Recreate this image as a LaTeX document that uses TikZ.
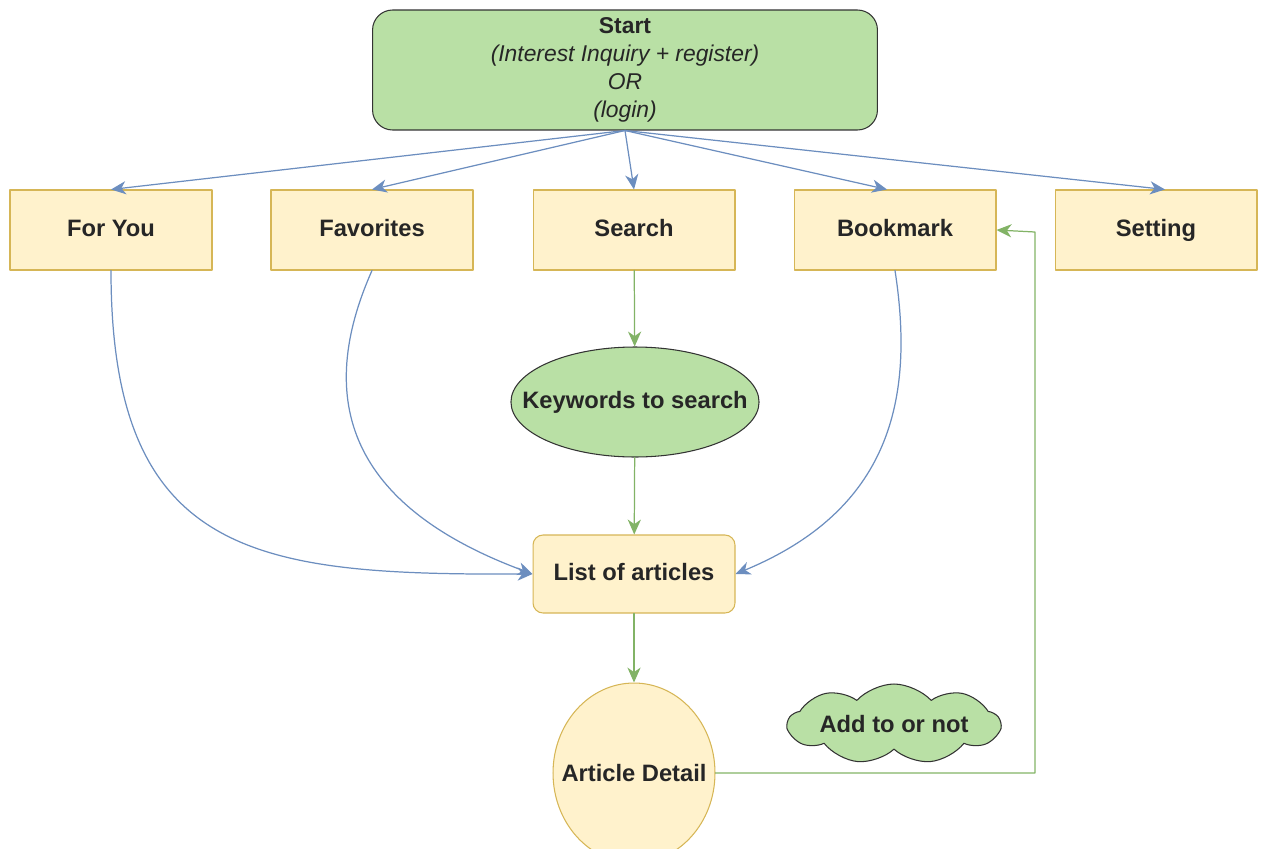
\documentclass[tikz,border=0pt]{standalone}
\usepackage{fontspec}
\setmainfont{Liberation Sans}
\usetikzlibrary{arrows.meta,shapes.geometric,shapes.symbols}
\begin{document}
\begin{tikzpicture}[x=0.02cm, y=-0.02cm, line cap=round, line join=round,
		>={Stealth[length=8.5pt,width=7.5pt,inset=2.6pt]},
		every node/.style={font=\fontsize{13.5}{16}\selectfont\bfseries, align=center, text=black!85},
		menubox/.style={draw=boxline, fill=boxfill, line width=0.6pt, minimum width=4.04cm, minimum height=1.6cm, text height=9.5pt, text depth=2.5pt},
		greenbox/.style={draw=black!80, fill=greenfill, line width=0.6pt},
		bluearrow/.style={->, draw=bluearrow, line width=0.7pt},
		greenarrow/.style={->, draw=greenarrow, line width=0.7pt}]
			\definecolor{boxfill}{RGB}{255, 242, 204}
			\definecolor{boxline}{RGB}{214, 182, 86}
			\definecolor{greenfill}{RGB}{185, 224, 165}
			\definecolor{bluearrow}{RGB}{108, 142, 191}
			\definecolor{greenarrow}{RGB}{130, 179, 102}
			\useasboundingbox (0, 0) rectangle (1263, 848);
			\clip (0, 0) rectangle (1263, 848);
			% start and menu
			\node[greenbox, rounded corners=0.4cm, minimum width=10.1cm, minimum height=2.4cm, font=\fontsize{13}{16}\selectfont\bfseries] (start) at (625, 70)
			{Start\\ {\mdseries\itshape (Interest Inquiry + register)}\\ {\mdseries\itshape OR}\\ {\mdseries\itshape (login)}};
			\node[menubox] (foryou) at (111, 230) {For You};
			\node[menubox] (favorites) at (372, 230) {Favorites};
			\node[menubox] (search) at (634, 230) {Search};
			\node[menubox] (bookmark) at (895, 230) {Bookmark};
			\node[menubox] (setting) at (1156, 230) {Setting};
			% search path and articles
			\node[greenbox, ellipse, inner xsep=-0.5cm, minimum width=4.88cm, minimum height=2.2cm] (keywords) at (635, 402) {Keywords to search};
			\node[menubox, rounded corners=0.2cm, minimum height=1.56cm] (list) at (634, 574) {List of articles};
			\node[draw=boxline, fill=boxfill, line width=0.6pt, ellipse, inner xsep=-0.35cm, minimum width=3.24cm, minimum height=3.6cm] (detail) at (634, 773) {Article Detail};
			\node[greenbox, cloud, cloud puffs=9, cloud puff arc=95, cloud ignores aspect, inner sep=0pt, minimum width=4.24cm, minimum height=1.6cm] (addto) at (894, 724) {Add to or not};
			% menu arrows
			\draw[bluearrow] (start.south) -- (foryou.north);
			\draw[bluearrow] (start.south) -- (favorites.north);
			\draw[bluearrow] (start.south) -- (search.north);
			\draw[bluearrow] (start.south) -- ([xshift=-0.16cm]bookmark.north);
			\draw[bluearrow] (start.south) -- ([xshift=0.18cm]setting.north);
			\draw[bluearrow] (foryou.south) .. controls (111, 560) and (260, 575) .. (list.west);
			\draw[bluearrow] (favorites.south) .. controls (310, 410) and (360, 510) .. (list.west);
			\draw[bluearrow] (bookmark.south) .. controls (915, 400) and (890, 510) .. (list.east);
			\draw[greenarrow] (search) -- (keywords);
			\draw[greenarrow] (keywords) -- (list);
			\draw[greenarrow] (list) -- (detail);
			\draw[greenarrow] (detail.east) -- (1035, 773) -- (1035, 232) -- (bookmark.east);
		\end{tikzpicture}
\end{document}
